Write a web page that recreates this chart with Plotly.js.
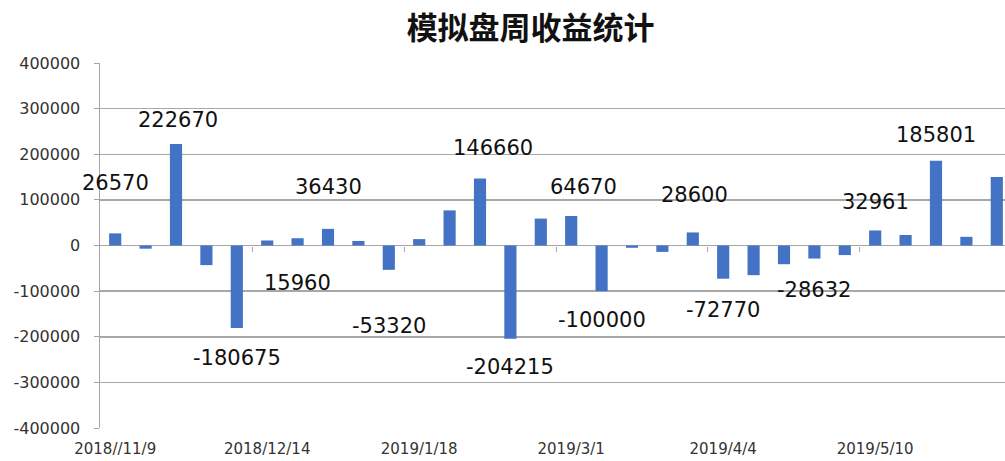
<!DOCTYPE html>
<html>
<head>
<meta charset="utf-8">
<script src="https://cdn.plot.ly/plotly-3.0.1.min.js"></script>
<style>html,body{margin:0;padding:0;background:#fff;}#chart{width:1005px;height:461px;}</style>
</head>
<body>
<div id="chart"></div>
<script>
// Weekly profit values (one per week, in order)
var weekIndex = [0,1,2,3,4,5,6,7,8,9,10,11,12,13,14,15,16,17,18,19,20,21,22,23,24,25,26,27,28,29];
var weeklyProfit = [26570,-7000,222670,-43000,-180675,11000,15960,36430,10000,-53320,
                    14000,77000,146660,-204215,59000,64670,-100000,-5000,-14000,28600,
                    -72770,-65000,-41000,-28632,-21000,32961,23000,185801,19000,150000];
// Category tick labels (every 5th week)
var tickIndex = [0,5,10,15,20,25];
var tickLabels = ["2018//11/9","2018/12/14","2019/1/18","2019/3/1","2019/4/4","2019/5/10"];
// Y tick labels
var yTickVals = [-400000,-300000,-200000,-100000,0,100000,200000,300000,400000];
var yTickLabels = ["-400000","-300000","-200000","-100000","0","100000","200000","300000","400000"];
// Which weeks carry a value label
var labelledWeeks = [0,2,4,6,7,9,12,13,15,16,19,20,23,25,27];
// label offsets (pixels) relative to bar end, style only
var labelDx = [0,2,0,0,0,0,13,0,12,0,2,0,0,0,0];
var labelDy = [50,24,-30,-45,42,-56,31,-28,29,-29,37,-31,-31,28,26];

var annotations = labelledWeeks.map(function(w, i){
  return {
    x: weekIndex[w], y: weeklyProfit[w], xref:'x', yref:'y',
    text: String(weeklyProfit[w]), showarrow:false,
    xshift: labelDx[i], yshift: labelDy[i],
    font:{family:'DejaVu Sans, sans-serif', size:21, color:'#111'}
  };
});

var boundaryTicks = [];
for (var k = 5; k < weekIndex.length; k += 5) boundaryTicks.push(weekIndex[k] - 0.5);

var data = [
  {type:'bar', x:weekIndex, y:weeklyProfit, width:0.4,
   marker:{color:'#4472C4'}, hoverinfo:'x+y'},
  {type:'scatter', x:[weekIndex[0]], y:[null], xaxis:'x2', yaxis:'y', showlegend:false, hoverinfo:'skip'}
];

var layout = {
  width:1005, height:461,
  margin:{l:100, r:0, t:63, b:33},
  paper_bgcolor:'#fff', plot_bgcolor:'#fff',
  showlegend:false,
  title:{text:'<b>模拟盘周收益统计</b>', x:0.528, xref:'container', xanchor:'center', y:0.939, yref:'container', yanchor:'middle',
         font:{family:'Noto Sans CJK SC, sans-serif', size:31, color:'#111'}},
  xaxis:{range:[-0.5, 29.27], tickvals:tickIndex, ticktext:tickLabels, ticks:'', showgrid:false,
         zeroline:false, showline:false, ticklabelstandoff:10,
         tickfont:{family:'DejaVu Sans, sans-serif', size:15, color:'#333'}, fixedrange:true},
  xaxis2:{overlaying:'x', anchor:'free', position:0.5, range:[-0.5, 29.27], tickvals:boundaryTicks,
          ticks:'outside', ticklen:5, tickwidth:1, tickcolor:'#a6a6a6', showticklabels:false,
          showgrid:false, zeroline:false, showline:false, side:'bottom'},
  yaxis:{range:[-400000,400000], tickvals:yTickVals, ticktext:yTickLabels,
         showgrid:true, gridcolor:'#a8a8a8', gridwidth:1.5, zeroline:true, zerolinecolor:'#a6a6a6', zerolinewidth:1.5,
         showline:true, linecolor:'#a6a6a6', linewidth:1.5, ticks:'outside', ticklen:5, tickcolor:'#a6a6a6',
         ticklabelstandoff:10,
         tickfont:{family:'DejaVu Sans, sans-serif', size:16, color:'#333'}},
  annotations:annotations
};

Plotly.newPlot('chart', data, layout, {displayModeBar:false, staticPlot:true});
</script>
</body>
</html>
